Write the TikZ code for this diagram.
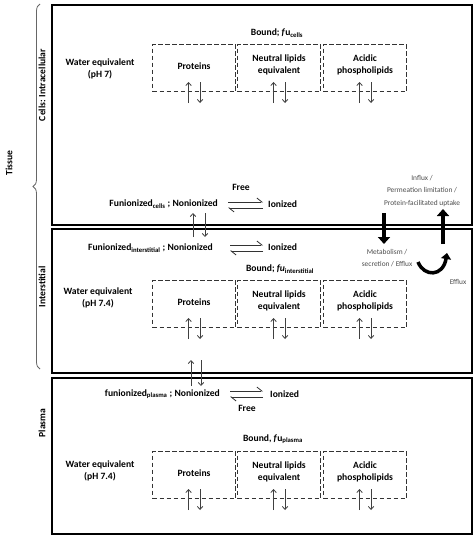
\documentclass[tikz,border=0pt]{standalone}
\usepackage{fontspec}
\setmainfont{Carlito}
\usetikzlibrary{arrows.meta,decorations.pathreplacing}
\begin{document}
\begin{tikzpicture}[x=1pt,y=-1pt,
  font=\fontsize{9.6}{11.5}\selectfont\bfseries,
  region/.style={draw=black,line width=1.7pt,inner sep=0pt,anchor=north west,minimum width=420pt},
  pool/.style={draw=black!80,line width=1.1pt,dash pattern=on 4.5pt off 2.5pt,inner sep=0pt,anchor=north west,minimum width=83pt,minimum height=47pt},
  lbl/.style={align=center,inner sep=0pt},
  small/.style={font=\fontsize{7.4}{12.5}\selectfont,text=black!70,align=center,inner sep=0pt},
  thinarrow/.style={draw=black!75,line width=0.8pt,-{Straight Barb[length=3pt,width=5.5pt]}},
  eqarrow/.style={draw=black!80,line width=0.8pt,-{Straight Barb[harpoon,length=5pt,width=8pt]}},
  thickarrow/.style={line width=4.5pt,-{Triangle[length=7pt,width=12pt]}},
  side/.style={rotate=90,inner sep=0pt},
]
\useasboundingbox (0,0) rectangle (474,535);

% regions
\node[region,minimum height=220pt] (cells) at (51,4) {};
\node[region,minimum height=144pt] (inter) at (51,228) {};
\node[region,minimum height=156pt] (plasma) at (51,377) {};

% side labels
\coordinate (bt) at (40,4);
\coordinate (bb) at (40,369);
\draw[black!60,line width=0.8pt,decorate,decoration={brace,amplitude=7pt}] (bb) -- (bt);
\node[side] (tissue) at (9,163) {Tissue};
\node[side] (lcells) at (42,85) {Cells: Intracellular};
\node[side] (linter) at (42,287) {Interstitial};
\node[side] (lplasma) at (42,423) {Plasma};

% pool rows
\foreach \p/\top in {c/44,i/280,p/451}{
  \node[pool] (\p prot) at (152,\top) {};
  \node[pool] (\p neut) at (237,\top) {};
  \node[pool] (\p acid) at (323,\top) {};
  \node[lbl] (\p tprot) at ([yshift=-22pt]\p prot.north) {Proteins};
  \node[lbl] (\p tneut) at ([yshift=-21pt]\p neut.north) {Neutral lipids\\equivalent};
  \node[lbl] (\p tacid) at ([yshift=-21pt]\p acid.north) {Acidic\\phospholipids};
  \foreach \b in {prot,neut,acid}{
    \coordinate (\p\b u1) at ([xshift=-5.5pt,yshift=-59pt]\p\b.north);
    \coordinate (\p\b u2) at ([xshift=-5.5pt,yshift=-38pt]\p\b.north);
    \coordinate (\p\b d1) at ([xshift=6pt,yshift=-38pt]\p\b.north);
    \coordinate (\p\b d2) at ([xshift=6pt,yshift=-59pt]\p\b.north);
    \draw[thinarrow] (\p\b u1) -- (\p\b u2);
    \draw[thinarrow] (\p\b d1) -- (\p\b d2);
  }
}

% water equivalent
\node[lbl] (cwater) at (100,69) {Water equivalent\\(pH 7)};
\node[lbl] (iwater) at (98,298) {Water equivalent\\(pH 7.4)};
\node[lbl] (pwater) at (100,471) {Water equivalent\\(pH 7.4)};

% bound labels
\node[lbl] (cbound) at (277,33) {Bound; \textit{f}u\textsubscript{cells}};
\node[lbl] (ibound) at (280,269) {Bound; \textit{fu}\textsubscript{interstitial}};
\node[lbl] (pbound) at (273,439) {Bound, \textit{f}u\textsubscript{plasma}};

% free / ionized
\node[lbl] (cfree) at (241,187) {Free};
\node[lbl,anchor=east] (cnon) at (218,204) {Funionized\textsubscript{cells} ; Nonionized};
\node[lbl,anchor=west] (cion) at (268,204) {Ionized};
\coordinate (ca1) at (228,202); \coordinate (ca2) at (263,202);
\coordinate (ca3) at (263,208); \coordinate (ca4) at (228,208);
\draw[eqarrow] (ca1) -- (ca2);
\draw[eqarrow] (ca3) -- (ca4);

\node[lbl,anchor=east] (inon) at (213,248) {Funionized\textsubscript{interstitial} ; Nonionized};
\node[lbl,anchor=west] (iion) at (268,247) {Ionized};
\coordinate (ia1) at (230,245); \coordinate (ia2) at (263,245);
\coordinate (ia3) at (263,251); \coordinate (ia4) at (230,251);
\draw[eqarrow] (ia1) -- (ia2);
\draw[eqarrow] (ia3) -- (ia4);

\node[lbl,anchor=east] (pnon) at (220,394) {funionized\textsubscript{plasma} ; Nonionized};
\node[lbl,anchor=west] (pion) at (270,394) {Ionized};
\node[lbl] (pfree) at (247,408) {Free};
\coordinate (pa1) at (230,391); \coordinate (pa2) at (263,391);
\coordinate (pa3) at (263,397); \coordinate (pa4) at (230,397);
\draw[eqarrow] (pa1) -- (pa2);
\draw[eqarrow] (pa3) -- (pa4);

% exchange arrows between compartments
\coordinate (x1a) at (193,237); \coordinate (x1b) at (193,213);
\coordinate (x1c) at (205,213); \coordinate (x1d) at (205,237);
\draw[thinarrow] (x1a) -- (x1b);
\draw[thinarrow] (x1c) -- (x1d);
\coordinate (x2a) at (191,386); \coordinate (x2b) at (191,360);
\coordinate (x2c) at (201,360); \coordinate (x2d) at (201,386);
\draw[thinarrow] (x2a) -- (x2b);
\draw[thinarrow] (x2c) -- (x2d);

% transport
\node[small] (influx) at (422,191) {Influx /\\Permeation limitation /\\Protein-facilitated uptake};
\node[small] (metab) at (387,258) {Metabolism /\\secretion / Efflux};
\node[small] (efflux) at (458,282) {Efflux};
\coordinate (td1) at (384,213); \coordinate (td2) at (384,244);
\coordinate (tu1) at (443,244); \coordinate (tu2) at (443,209);
\draw[thickarrow] (td1) -- (td2);
\draw[thickarrow] (tu1) -- (tu2);
\coordinate (cv1) at (418,262); \coordinate (cv2) at (447,253);
\draw[line width=3.5pt,-{Triangle[length=6pt,width=10pt]}] (cv1) .. controls (424,277) and (443,277) .. (cv2);
\end{tikzpicture}
\end{document}
